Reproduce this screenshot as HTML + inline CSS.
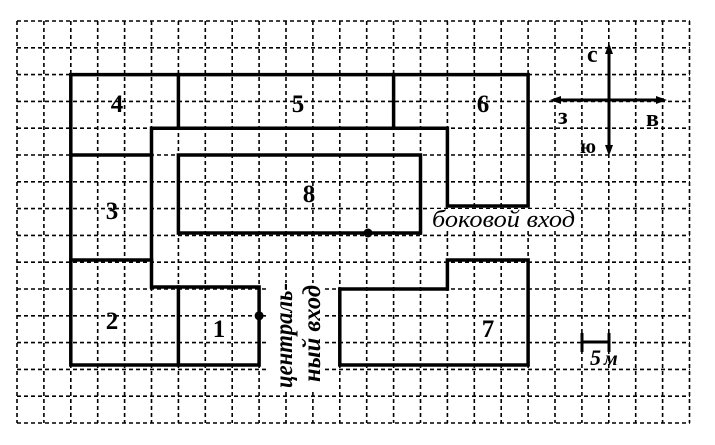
<!DOCTYPE html>
<html><head><meta charset="utf-8"><style>body{margin:0;background:#fff}svg{display:block}</style></head><body>
<svg width="715" height="445" viewBox="0 0 715 445" xmlns="http://www.w3.org/2000/svg">
<g stroke="#000" stroke-width="1.6" stroke-dasharray="4,3">
<line x1="17" y1="21" x2="17" y2="423"/><line x1="43.9" y1="21" x2="43.9" y2="423"/><line x1="70.8" y1="21" x2="70.8" y2="423"/><line x1="97.7" y1="21" x2="97.7" y2="423"/><line x1="124.6" y1="21" x2="124.6" y2="423"/><line x1="151.5" y1="21" x2="151.5" y2="423"/><line x1="178.4" y1="21" x2="178.4" y2="423"/><line x1="205.3" y1="21" x2="205.3" y2="423"/><line x1="232.2" y1="21" x2="232.2" y2="423"/><line x1="259.1" y1="21" x2="259.1" y2="423"/><line x1="286" y1="21" x2="286" y2="423"/><line x1="312.9" y1="21" x2="312.9" y2="423"/><line x1="339.8" y1="21" x2="339.8" y2="423"/><line x1="366.7" y1="21" x2="366.7" y2="423"/><line x1="393.6" y1="21" x2="393.6" y2="423"/><line x1="420.5" y1="21" x2="420.5" y2="423"/><line x1="447.4" y1="21" x2="447.4" y2="423"/><line x1="474.3" y1="21" x2="474.3" y2="423"/><line x1="501.2" y1="21" x2="501.2" y2="423"/><line x1="528.1" y1="21" x2="528.1" y2="423"/><line x1="555" y1="21" x2="555" y2="423"/><line x1="581.9" y1="21" x2="581.9" y2="423"/><line x1="608.8" y1="21" x2="608.8" y2="423"/><line x1="635.7" y1="21" x2="635.7" y2="423"/><line x1="662.6" y1="21" x2="662.6" y2="423"/><line x1="689.5" y1="21" x2="689.5" y2="423"/>
<line x1="17" y1="21" x2="690" y2="21"/><line x1="17" y1="47.8" x2="690" y2="47.8"/><line x1="17" y1="74.6" x2="690" y2="74.6"/><line x1="17" y1="101.4" x2="690" y2="101.4"/><line x1="17" y1="128.2" x2="690" y2="128.2"/><line x1="17" y1="155" x2="690" y2="155"/><line x1="17" y1="181.8" x2="690" y2="181.8"/><line x1="17" y1="208.6" x2="690" y2="208.6"/><line x1="17" y1="235.4" x2="690" y2="235.4"/><line x1="17" y1="262.2" x2="690" y2="262.2"/><line x1="17" y1="289" x2="690" y2="289"/><line x1="17" y1="315.8" x2="690" y2="315.8"/><line x1="17" y1="342.6" x2="690" y2="342.6"/><line x1="17" y1="369.4" x2="690" y2="369.4"/><line x1="17" y1="396.2" x2="690" y2="396.2"/><line x1="17" y1="423" x2="690" y2="423"/>
</g>
<g stroke="#000" stroke-width="3.5" fill="none" stroke-linecap="square">
<polyline points="70.8,365 70.8,74.6 528.1,74.6 528.1,206 447.4,206 447.4,128.2 151.5,128.2 151.5,287 259.1,287 259.1,365 70.8,365"/>
<line x1="178.4" y1="74.6" x2="178.4" y2="128.2"/>
<line x1="393.6" y1="74.6" x2="393.6" y2="128.2"/>
<line x1="70.8" y1="155" x2="151.5" y2="155"/>
<line x1="70.8" y1="260" x2="151.5" y2="260"/>
<line x1="178.4" y1="287" x2="178.4" y2="365"/>
<rect x="178.4" y="155" width="242.1" height="78"/>
<polyline points="447.4,260 528.1,260 528.1,365 339.8,365 339.8,289 447.4,289 447.4,260"/>
</g>
<circle cx="259.1" cy="315.8" r="4.5" fill="#000"/>
<circle cx="368" cy="233" r="4.5" fill="#000"/>
<g font-family="Liberation Serif, serif" font-weight="bold" font-size="25" text-anchor="middle">
<text x="117" y="112">4</text><text x="298" y="112">5</text><text x="483" y="112">6</text>
<text x="112" y="219">3</text><text x="309" y="202">8</text><text x="112" y="329">2</text>
<text x="219" y="337">1</text><text x="488" y="337">7</text>
</g>
<rect x="430" y="209" width="148" height="22" fill="#fff"/>
<text x="432" y="227" font-family="Liberation Serif, serif" font-style="italic" font-size="24" textLength="143" lengthAdjust="spacingAndGlyphs">боковой вход</text>
<rect x="268" y="283" width="56" height="109" fill="#fff"/>
<g font-family="Liberation Serif, serif" font-style="italic" font-weight="bold" font-size="25">
<text transform="translate(292,388) rotate(-90)" textLength="105" lengthAdjust="spacingAndGlyphs">централь-</text>
<text transform="translate(320,382) rotate(-90)" textLength="97" lengthAdjust="spacingAndGlyphs">ный вход</text>
</g>
<g stroke="#000" stroke-width="3" fill="#000">
<line x1="609" y1="48" x2="609" y2="150"/>
<line x1="553" y1="100" x2="664" y2="100"/>
<polygon points="609,43 605,54 613,54" stroke="none"/>
<polygon points="609,156 605,145 613,145" stroke="none"/>
<polygon points="550,100 561,96 561,104" stroke="none"/>
<polygon points="667,100 656,96 656,104" stroke="none"/>
<line x1="582" y1="342" x2="609" y2="342"/>
<line x1="582" y1="333" x2="582" y2="352"/>
<line x1="609" y1="333" x2="609" y2="352"/>
</g>
<g font-family="Liberation Serif, serif" font-weight="bold" font-size="24">
<text x="587" y="62">с</text><text x="558" y="124">з</text><text x="646" y="126">в</text><text x="580" y="153" font-size="21">ю</text>
</g>
<text x="590" y="365" font-family="Liberation Serif, serif" font-weight="bold" font-style="italic" font-size="22">5</text>
<text x="604" y="365" font-family="Liberation Serif, serif" font-weight="bold" font-style="italic" font-size="20">м</text>
</svg>
</body></html>
